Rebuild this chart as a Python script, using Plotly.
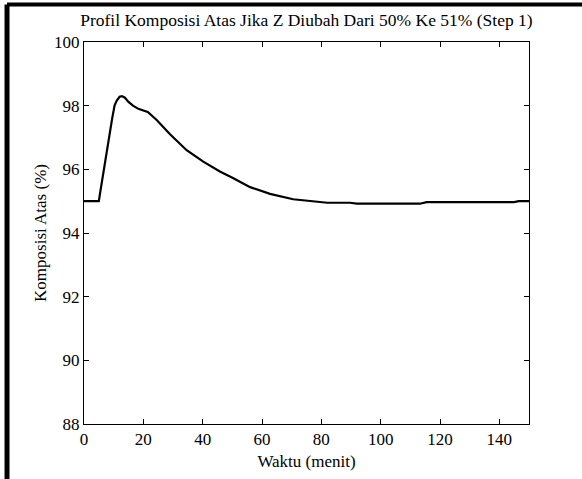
import plotly.graph_objects as go

waktu = [0, 5, 5.5, 7, 8.5, 9.5, 10.3, 11, 12, 12.8, 13.8, 15, 16.5, 18.3, 20, 21.5,
         24.5, 29, 34.6, 40.2, 45.8, 50.2, 56, 62.7, 70.5, 78.4, 82, 89.7, 91.9,
         113.2, 115.5, 145, 146.5, 150]
komposisi = [95, 95, 95.3, 96.2, 97.0, 97.6, 98.0, 98.15, 98.28, 98.3, 98.25, 98.12,
             98.0, 97.9, 97.85, 97.8, 97.55, 97.1, 96.6, 96.24, 95.93, 95.73, 95.44,
             95.23, 95.06, 94.98, 94.95, 94.95, 94.92, 94.92, 94.97, 94.97, 95.0, 95.0]
x_ticks = [0, 20, 40, 60, 80, 100, 120, 140]
y_ticks = [88, 90, 92, 94, 96, 98, 100]

font = dict(family="Liberation Serif", size=17, color="black")

fig = go.Figure()
fig.add_trace(go.Scatter(x=waktu, y=komposisi, mode="lines",
                         line=dict(color="black", width=2.2), showlegend=False))

axis_common = dict(showline=True, linecolor="black", linewidth=1, mirror="ticks",
                   ticks="inside", ticklen=5, tickcolor="black", showgrid=False,
                   zeroline=False, tickfont=font)

fig.update_layout(
    width=582, height=479,
    margin=dict(l=84, r=53, t=42, b=55),
    paper_bgcolor="white", plot_bgcolor="white",
    font=font,
    title=dict(text="Profil Komposisi Atas Jika Z Diubah Dari 50% Ke 51% (Step 1)",
               x=0.5265, xanchor="center", y=0.958, yanchor="middle",
               font=dict(family="Liberation Serif", size=17.5, color="black")),
    xaxis=dict(range=[0, 150], tickvals=x_ticks,
               title=dict(text="Waktu (menit)", font=font, standoff=6), **axis_common),
    yaxis=dict(range=[88, 100], tickvals=y_ticks,
               title=dict(text="Komposisi Atas (%)", font=font, standoff=3), **axis_common),
    shapes=[
        dict(type="line", xref="paper", yref="paper", x0=-0.173, x1=1.12, y0=1.098, y1=1.098,
             line=dict(color="black", width=4)),
        dict(type="line", xref="paper", yref="paper", x0=-0.173, x1=-0.173, y0=-0.15, y1=1.098,
             line=dict(color="black", width=5)),
    ],
)

fig.write_html("out.html", config={"displayModeBar": False},
               post_script="document.body.style.margin='0';document.body.style.overflow='hidden';")
